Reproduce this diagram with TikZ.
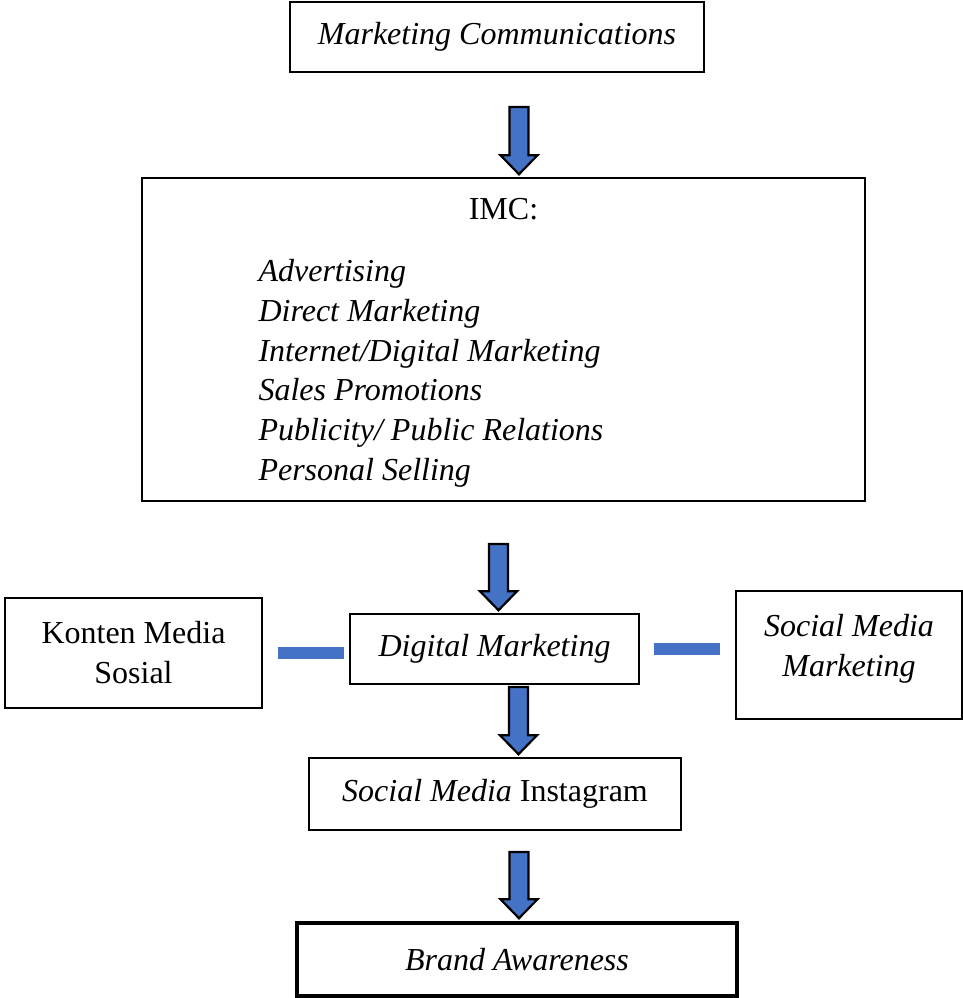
\documentclass[tikz,border=0pt]{standalone}
\usepackage{fontspec}
\setmainfont{Liberation Serif}
\usetikzlibrary{calc}

\definecolor{arrowblue}{HTML}{4472C4}

\tikzset{
  every node/.style={font=\fontsize{32}{40}\selectfont},
  box/.style={draw, line width=2.5pt, inner sep=0pt, align=center},
  thickbox/.style={box, line width=4.5pt},
  blockarrow/.style={draw, fill=arrowblue, line width=2.2pt, line join=miter},
  linkbar/.style={draw=arrowblue, line width=12pt},
}

% block arrow pointing down from #1 onto the top of node #2
\newcommand{\flowarrow}[2]{%
  \coordinate (fatip) at ($(#1 |- #2)+(0,-2.5)$);
  \draw[blockarrow] ($(#1)+(-9.5,0)$) -- ($(#1)+(9.5,0)$)
    -- ($(fatip)+(9.5,-19)$) -- ($(fatip)+(18.5,-19)$) -- (fatip)
    -- ($(fatip)+(-18.5,-19)$) -- ($(fatip)+(-9.5,-19)$) -- cycle;
}

\begin{document}
\begin{tikzpicture}[x=1pt, y=-1pt]
  \useasboundingbox (0,0) rectangle (963,998);

  % Boxes
  \node[box, minimum width=414, minimum height=70] (mc) at (497,37)
    {\textit{Marketing Communications}};
  \node[box, minimum width=723, minimum height=323] (imc) at (503.5,339.5) {};
  \node[box, minimum width=289, minimum height=70] (dm) at (494.5,649)
    {\textit{Digital Marketing}};
  \node[box, minimum width=257, minimum height=110] (konten) at (133.5,653)
    {Konten Media\\Sosial};
  \node[box, minimum width=226, minimum height=128] (smm) at (849,655) {};
  \node[box, minimum width=372, minimum height=72] (smi) at (495,794)
    {\textit{Social Media} Instagram};
  \node[thickbox, minimum width=440, minimum height=73] (ba) at (517,959.5)
    {\textit{Brand Awareness}};

  % Texts inside the IMC box
  \node[anchor=base] (imctitle) at (503.5,219) {IMC:};
  \node[anchor=base west] (adv) at (255,281) {\textit{Advertising}};
  \node[anchor=base west] (direct) at (255,321) {\textit{Direct Marketing}};
  \node[anchor=base west] (internet) at (255,361) {\textit{Internet/Digital Marketing}};
  \node[anchor=base west] (sales) at (255,400) {\textit{Sales Promotions}};
  \node[anchor=base west] (publicity) at (255,440) {\textit{Publicity/ Public Relations}};
  \node[anchor=base west] (personal) at (255,480) {\textit{Personal Selling}};

  \node[align=center] (smmtext) at (849,649) {\textit{Social Media}\\\textit{Marketing}};

  % Arrows
  \coordinate (a1) at (519,107);
  \coordinate (a2) at (498.5,544);
  \coordinate (a3) at (518.5,687);
  \coordinate (a4) at (519,852);
  \flowarrow{a1}{imc.north}
  \flowarrow{a2}{dm.north}
  \flowarrow{a3}{smi.north}
  \flowarrow{a4}{ba.north}

  % Side links
  \draw[linkbar] ($(konten.east)+(15,0)$) -- ($(konten.east)+(81,0)$);
  \draw[linkbar] ($(dm.east)+(14,0)$) -- ($(dm.east)+(80,0)$);
\end{tikzpicture}
\end{document}
